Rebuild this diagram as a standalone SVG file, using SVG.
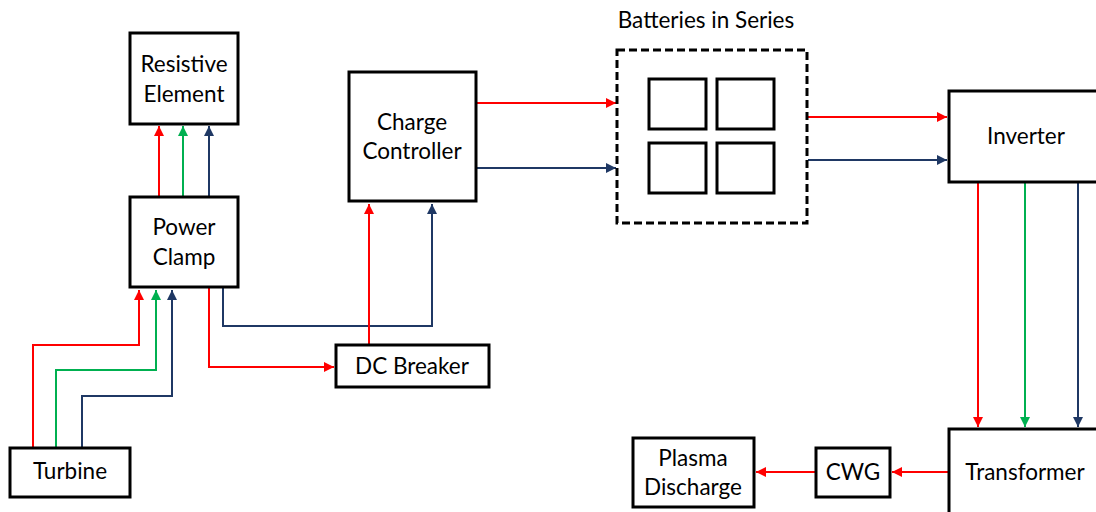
<svg xmlns="http://www.w3.org/2000/svg" width="1096" height="512" viewBox="0 0 1096 512">
<style>
.box{fill:#fff;stroke:#000;stroke-width:3}
.sq{fill:none;stroke:#000;stroke-width:3}
.t{font-family:Lato,"Open Sans",sans-serif;font-size:22.5px;fill:#000;text-anchor:middle}
.r{fill:none;stroke:#FF0000;stroke-width:2}
.g{fill:none;stroke:#00B050;stroke-width:2}
.b{fill:none;stroke:#1F3864;stroke-width:2}
</style>
<defs>
<marker id="mr" viewBox="0 0 10 10" refX="10" refY="5" markerWidth="5" markerHeight="5" orient="auto" markerUnits="strokeWidth"><path d="M0,0L10,5L0,10z" fill="#FF0000"/></marker>
<marker id="mg" viewBox="0 0 10 10" refX="10" refY="5" markerWidth="5" markerHeight="5" orient="auto" markerUnits="strokeWidth"><path d="M0,0L10,5L0,10z" fill="#00B050"/></marker>
<marker id="mb" viewBox="0 0 10 10" refX="10" refY="5" markerWidth="5" markerHeight="5" orient="auto" markerUnits="strokeWidth"><path d="M0,0L10,5L0,10z" fill="#1F3864"/></marker>
</defs>
<g id="connectors">
<path class="r" d="M159,196V126" marker-end="url(#mr)"/>
<path class="g" d="M183,196V126" marker-end="url(#mg)"/>
<path class="b" d="M209,196V126" marker-end="url(#mb)"/>
<path class="r" d="M33,448V345H139V290" marker-end="url(#mr)"/>
<path class="g" d="M56,448V370H156V290" marker-end="url(#mg)"/>
<path class="b" d="M82,448V396H172V290" marker-end="url(#mb)"/>
<path class="b" d="M223,288V326H432V204" marker-end="url(#mb)"/>
<path class="r" d="M209,288V367H334" marker-end="url(#mr)"/>
<path class="r" d="M369,345V204" marker-end="url(#mr)"/>
<path class="r" d="M477,103H616" marker-end="url(#mr)"/>
<path class="b" d="M477,168H616" marker-end="url(#mb)"/>
<path class="r" d="M808,117H947" marker-end="url(#mr)"/>
<path class="b" d="M808,160H947" marker-end="url(#mb)"/>
<path class="r" d="M978,183V427" marker-end="url(#mr)"/>
<path class="g" d="M1025,183V427" marker-end="url(#mg)"/>
<path class="b" d="M1078,183V427" marker-end="url(#mb)"/>
<path class="r" d="M948,472H892" marker-end="url(#mr)"/>
<path class="r" d="M815,472H756" marker-end="url(#mr)"/>
</g>
<g id="resistive"><rect class="box" x="130" y="33" width="108" height="91"/><text class="t" x="184" y="72">Resistive</text><text class="t" x="184" y="102">Element</text></g>
<g id="powerclamp"><rect class="box" x="130" y="197" width="108" height="90"/><text class="t" x="184" y="235">Power</text><text class="t" x="184" y="265">Clamp</text></g>
<g id="turbine"><rect class="box" x="10" y="448" width="120" height="49"/><text class="t" x="70" y="479">Turbine</text></g>
<g id="dcbreaker"><rect class="box" x="336" y="345" width="153" height="42"/><text class="t" x="412" y="374">DC Breaker</text></g>
<g id="charge"><rect class="box" x="349" y="72" width="127" height="129"/><text class="t" x="412" y="130">Charge</text><text class="t" x="412" y="159">Controller</text></g>
<g id="batteries">
<text class="t" x="706" y="28">Batteries in Series</text>
<rect x="617" y="50" width="190" height="173" fill="#fff" stroke="#000" stroke-width="3" stroke-dasharray="8,4"/>
<rect class="sq" x="649" y="79" width="57" height="50"/>
<rect class="sq" x="717" y="79" width="57" height="50"/>
<rect class="sq" x="649" y="143" width="57" height="50"/>
<rect class="sq" x="717" y="143" width="57" height="50"/>
</g>
<g id="inverter"><rect class="box" x="949" y="91" width="160" height="91"/><text class="t" x="1026" y="144">Inverter</text></g>
<g id="transformer"><rect class="box" x="949" y="429" width="160" height="100"/><text class="t" x="1025" y="480">Transformer</text></g>
<g id="cwg"><rect class="box" x="816" y="448" width="74" height="49"/><text class="t" x="853" y="480">CWG</text></g>
<g id="plasma"><rect class="box" x="633" y="438" width="121" height="69"/><text class="t" x="693" y="466">Plasma</text><text class="t" x="693" y="495">Discharge</text></g>
</svg>
